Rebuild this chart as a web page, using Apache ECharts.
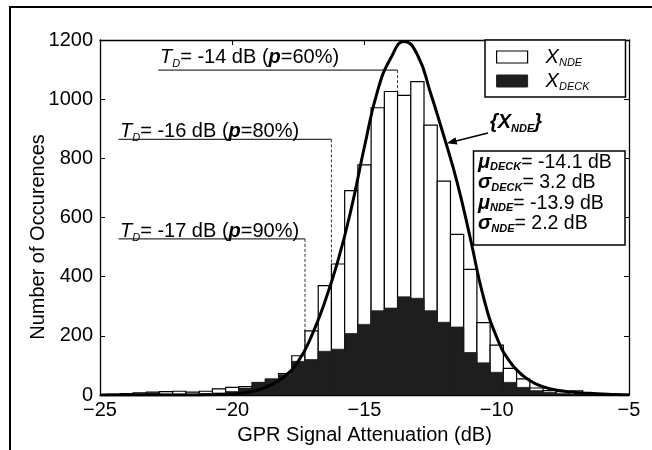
<!DOCTYPE html>
<html lang="en">
<head>
<meta charset="UTF-8">
<title>GPR Signal Attenuation histogram</title>
<style>
  html, body { margin: 0; padding: 0; background: #fff; }
  #main { width: 652px; height: 450px; }
</style>
</head>
<body>
<div id="main"></div>
<script src="https://cdn.jsdelivr.net/npm/echarts@6/dist/echarts.min.js"></script>
<script>
  // histogram bins, 0.5 dB wide (centres)
  var binCentres = [-24.5, -24, -23.5, -23, -22.5, -22, -21.5, -21, -20.5, -20,
    -19.5, -19, -18.5, -18, -17.5, -17, -16.5, -16, -15.5, -15,
    -14.5, -14, -13.5, -13, -12.5, -12, -11.5, -11, -10.5, -10,
    -9.5, -9, -8.5, -8, -7.5, -7, -6.5, -6, -5.5];
  var countNDE = [3, 5, 8, 10, 12, 13, 10, 13, 21, 26,
    29, 42, 54, 73, 133, 217, 370, 443, 691, 778,
    971, 1026, 1013, 1059, 912, 723, 543, 425, 245, 169,
    90, 55, 24, 15, 12, 14, 6, 4, 2];
  var countDECK = [2, 3, 5, 7, 3, 3, 3, 5, 7, 12,
    24, 43, 54, 69, 114, 120, 148, 155, 208, 239,
    285, 294, 332, 327, 285, 246, 230, 144, 109, 77,
    43, 26, 15, 9, 5, 3, 2, 1, 1];

  // fitted curve {X_NDE}
  var fitX = [-25, -24.5, -24, -23.5, -23, -22.5, -22, -21.5, -21, -20.5,
    -20, -19.5, -19, -18.5, -18, -17.5, -17, -16.5, -16, -15.5,
    -15, -14.5, -14, -13.5, -13, -12.5, -12, -11.5, -11, -10.5,
    -10, -9.5, -9, -8.5, -8, -7.5, -7, -6.5, -6, -5.5, -5];
  var fitNDE = [0, 0, 0, 0, 0, 0, 0, 0, 1, 2,
    4, 8, 18, 36, 65, 115, 200, 315, 455, 630,
    840, 1030, 1140, 1195, 1150, 1020, 875, 720, 530, 330,
    195, 112, 65, 37, 22, 14, 9, 6, 4, 2, 1];

  // detection thresholds T_D
  var tdValue = ['-14', '-16', '-17'];
  var tdProb = ['60%', '80%', '90%'];
  var tdEdge = [-13.75, -16.25, -17.25];   // bin edge the dashed line drops on
  var tdLevel = [1098, 864, 528];           // height of the leader line
  var tdStart = [-22.8, -24.3, -24.3];      // where the leader line starts

  var statNames = ['μ', 'σ', 'μ', 'σ'];
  var statSubs = ['DECK', 'DECK', 'NDE', 'NDE'];
  var statValues = ['-14.1', '3.2', '-13.9', '2.2'];

  var xTicks = { min: -25, max: -5, step: 5 };
  var yTicks = { min: 0, max: 1200, step: 200 };

  var FONT = '"Liberation Sans", Arial, Helvetica, sans-serif';
  var FS = 20;
  var BLACK = '#1e1e1e';

  var chart = echarts.init(document.getElementById('main'));

  function binRender(fill, stroke, lw) {
    return function (params, api) {
      var c = api.value(0), v = api.value(1);
      var p0 = api.coord([c - 0.25, v]);
      var p1 = api.coord([c + 0.25, 0]);
      return {
        type: 'rect',
        shape: { x: p0[0], y: p0[1], width: p1[0] - p0[0], height: p1[1] - p0[1] },
        style: { fill: fill, stroke: stroke, lineWidth: lw }
      };
    };
  }

  var series = [];

  // threshold leader + dashed drop lines
  tdEdge.forEach(function (e, i) {
    series.push({
      type: 'line', silent: true, symbol: 'none', z: 1,
      data: [[tdStart[i], tdLevel[i]], [e, tdLevel[i]]],
      lineStyle: { color: '#333', width: 1.2 }
    });
    series.push({
      type: 'line', silent: true, symbol: 'none', z: 1,
      data: [[e, tdLevel[i]], [e, 0]],
      lineStyle: { color: '#333', width: 1, type: [3, 2] }
    });
  });

  series.push({
    name: 'NDE', type: 'custom', z: 2, clip: true,
    renderItem: binRender('#fff', '#000', 1.2),
    data: binCentres.map(function (c, i) { return [c, countNDE[i]]; })
  });
  series.push({
    name: 'DECK', type: 'custom', z: 3, clip: true,
    renderItem: binRender(BLACK, BLACK, 0.8),
    data: binCentres.map(function (c, i) { return [c, countDECK[i]]; })
  });
  series.push({
    type: 'line', z: 4, symbol: 'none', smooth: 0.5,
    data: fitX.map(function (x, i) { return [x, fitNDE[i]]; }),
    lineStyle: { color: '#000', width: 3 }
  });

  var tdRich = {
    t: { fontFamily: FONT, fontStyle: 'italic', fontSize: FS, lineHeight: 24 },
    d: { fontFamily: FONT, fontStyle: 'italic', fontSize: 11, lineHeight: 12, verticalAlign: 'bottom' },
    n: { fontFamily: FONT, fontSize: FS, lineHeight: 24 },
    p: { fontFamily: FONT, fontStyle: 'italic', fontWeight: 'bold', fontSize: FS, lineHeight: 24 }
  };
  var tdPos = [[160, 57], [120, 131], [120, 231]];

  var graphics = [
    // outer figure frame (top + left)
    {
      type: 'polyline', silent: true,
      shape: { points: [[10, 450], [10, 7], [652, 7]] },
      style: { stroke: '#000', lineWidth: 2, fill: null }
    },
    {
      type: 'text', x: 38, y: 237, rotation: Math.PI / 2,
      style: { text: 'Number of Occurences', font: FS + 'px ' + FONT, fill: '#000', align: 'center', verticalAlign: 'middle' }
    }
  ];
  tdValue.forEach(function (v, i) {
    graphics.push({
      type: 'text', x: tdPos[i][0], y: tdPos[i][1], z: 10,
      style: {
        text: '{t|T}{d|D}{n|= ' + v + ' dB (}{p|p}{n|=' + tdProb[i] + ')}',
        rich: tdRich, fill: '#000', verticalAlign: 'middle', align: 'left'
      }
    });
  });

  // {X_NDE} label + arrow
  graphics.push({
    type: 'text', x: 490, y: 122, z: 10,
    style: {
      text: '{b|{X}{bs|NDE}}',
      font: 'italic bold ' + FS + 'px ' + FONT, fill: '#000', verticalAlign: 'middle',
      rich: {
        b: { fontFamily: FONT, fontStyle: 'italic', fontWeight: 'bold', fontSize: FS, lineHeight: 24 },
        bs: { fontFamily: FONT, fontStyle: 'italic', fontWeight: 'bold', fontSize: 11, lineHeight: 12, verticalAlign: 'bottom' }
      }
    }
  });
  graphics.push({
    type: 'line', z: 10, silent: true,
    shape: { x1: 488, y1: 133, x2: 455, y2: 141.2 },
    style: { stroke: '#000', lineWidth: 1.5 }
  });
  graphics.push({
    type: 'polygon', z: 10, silent: true,
    shape: { points: [[446.7, 143.3], [455.4, 137.3], [457.4, 144.5]] },
    style: { fill: '#000' }
  });

  // stats box
  var statLines = statNames.map(function (g, i) {
    return '{g|' + g + '}{s|' + statSubs[i] + '}{n|= ' + statValues[i] + ' dB}';
  });
  graphics.push({
    type: 'rect', z: 9, silent: true,
    shape: { x: 473.5, y: 151, width: 151.5, height: 94 },
    style: { fill: '#fff', stroke: '#000', lineWidth: 1.5 }
  });
  graphics.push({
    type: 'text', x: 478, y: 152, z: 10,
    style: {
      text: statLines.join('\n'), verticalAlign: 'top', align: 'left',
      rich: {
        g: { fontFamily: FONT, fontStyle: 'italic', fontWeight: 'bold', fontSize: 20, lineHeight: 20.5 },
        s: { fontFamily: FONT, fontStyle: 'italic', fontWeight: 'bold', fontSize: 11, lineHeight: 12, verticalAlign: 'bottom' },
        n: { fontFamily: FONT, fontSize: 19.5, lineHeight: 20.5 }
      }
    }
  });

  function minusFmt(v) { return String(v).replace('-', '\u2212'); }
  function plainFmt(v) { return String(v); }

  var axisCommon = {
    type: 'value',
    axisLine: { show: true, onZero: false, lineStyle: { color: '#000', width: 1.3 } },
    axisTick: { show: true, inside: true, length: 5, lineStyle: { color: '#000', width: 1 } },
    splitLine: { show: false }
  };

  var option = {
    animation: false,
    backgroundColor: '#fff',
    grid: { left: 100, top: 40, width: 529, height: 363, containLabel: false },
    xAxis: [
      Object.assign({}, axisCommon, {
        min: xTicks.min, max: xTicks.max, interval: xTicks.step, position: 'bottom',
        axisLabel: { color: '#000', fontFamily: FONT, fontSize: FS, margin: 5, formatter: minusFmt },
        name: 'GPR Signal Attenuation (dB)', nameLocation: 'middle', nameGap: 28,
        nameTextStyle: { color: '#000', fontFamily: FONT, fontSize: FS }
      }),
      Object.assign({}, axisCommon, {
        min: xTicks.min, max: xTicks.max, interval: xTicks.step, position: 'top',
        axisLabel: { show: false }
      })
    ],
    yAxis: [
      Object.assign({}, axisCommon, {
        min: yTicks.min, max: yTicks.max, interval: yTicks.step, position: 'left',
        axisLabel: { color: '#000', fontFamily: FONT, fontSize: FS, margin: 7, formatter: plainFmt }
      }),
      Object.assign({}, axisCommon, {
        min: yTicks.min, max: yTicks.max, interval: yTicks.step, position: 'right',
        axisLabel: { show: false }
      })
    ],
    legend: {
      orient: 'vertical', left: 485, top: 40, selectedMode: false,
      padding: [7, 36, 5, 11], itemGap: 3, itemWidth: 31, itemHeight: 12,
      backgroundColor: '#fff', borderColor: '#000', borderWidth: 1.5, borderRadius: 0,
      data: [
        { name: 'NDE', icon: 'rect', itemStyle: { color: '#fff', borderColor: '#000', borderWidth: 1.2 } },
        { name: 'DECK', icon: 'rect', itemStyle: { color: BLACK, borderColor: BLACK, borderWidth: 1 } }
      ],
      formatter: function (n) { return '{x|X}{s|' + n + '}'; },
      textStyle: {
        rich: {
          x: { fontFamily: FONT, fontStyle: 'italic', fontSize: FS, lineHeight: 22, padding: [0, 0, 0, 13], color: '#000' },
          s: { fontFamily: FONT, fontStyle: 'italic', fontSize: 11, lineHeight: 11, verticalAlign: 'bottom', color: '#000' }
        }
      }
    },
    graphic: graphics,
    series: series
  };

  chart.setOption(option);
</script>
</body>
</html>
